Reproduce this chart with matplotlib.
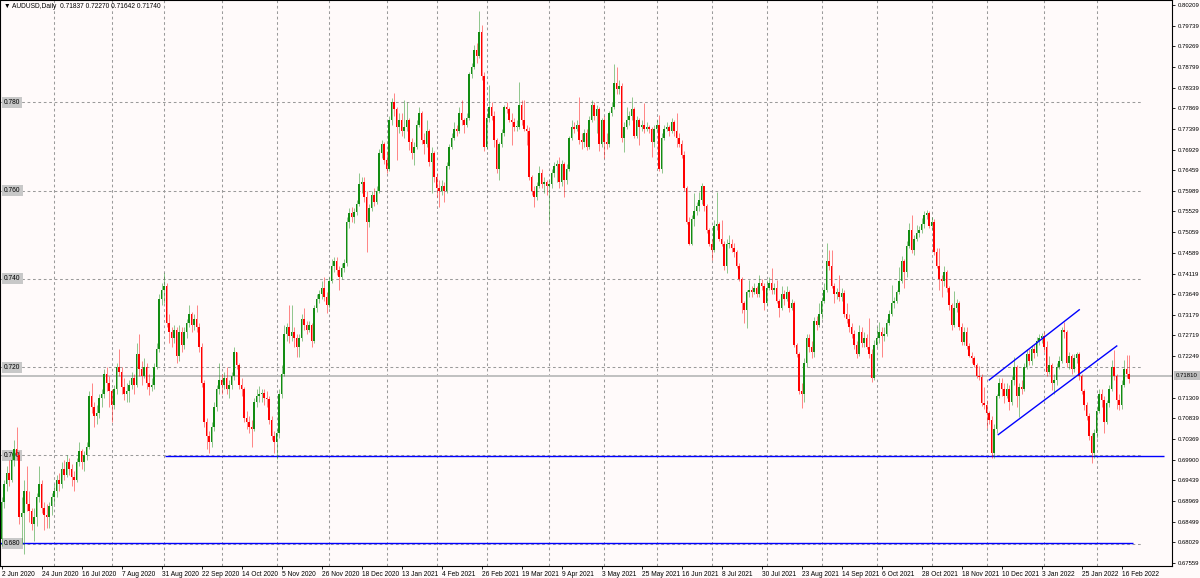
import numpy as np
import matplotlib
matplotlib.use("Agg")
import matplotlib.pyplot as plt

# AUDUSD daily bars, values in pips (price * 10000)
first_open = 6810
closes = [
    6895, 6935, 6960, 6945, 6990, 7015, 7000, 6860, 6870, 6920, 6890, 6875, 6845, 6860, 6905, 6935,
    6880, 6865, 6860, 6885, 6905, 6920, 6945, 6935, 6970, 6955, 6985, 6970, 6950, 6945, 6985, 7010,
    6985, 7000, 7020, 7135, 7110, 7090, 7095, 7130, 7140, 7185, 7165, 7145, 7115, 7150, 7200, 7190,
    7155, 7140, 7145, 7160, 7175, 7160, 7230, 7195, 7180, 7200, 7165, 7155, 7160, 7200, 7240, 7355,
    7375, 7385, 7300, 7280, 7265, 7285, 7225, 7280, 7250, 7280, 7300, 7320, 7295, 7310, 7290, 7245,
    7165, 7075, 7045, 7030, 7065, 7110, 7150, 7170, 7160, 7175, 7150, 7160, 7180, 7235, 7205, 7160,
    7150, 7085, 7075, 7065, 7060, 7120, 7135, 7138, 7142, 7130, 7128, 7080, 7045, 7030, 7050, 7140,
    7185, 7275, 7290, 7270, 7280, 7265, 7245, 7265, 7310, 7295, 7285, 7295, 7260, 7335, 7355, 7365,
    7380, 7360, 7340, 7395, 7430, 7440, 7420, 7405, 7425, 7435, 7530, 7550, 7540, 7552, 7570, 7615,
    7620, 7585, 7530, 7560, 7590, 7575, 7600, 7685, 7705, 7670, 7650, 7760, 7800, 7785, 7745, 7760,
    7735, 7745, 7760, 7710, 7685, 7700, 7750, 7775, 7715, 7705, 7735, 7665, 7685, 7630, 7605, 7600,
    7610, 7600, 7655, 7700, 7720, 7740, 7735, 7775, 7760, 7748, 7765, 7865, 7880, 7920, 7905, 7960,
    7860, 7700, 7765, 7790, 7770, 7715, 7650, 7705, 7730, 7790, 7785, 7760, 7755, 7745, 7745, 7795,
    7760, 7740, 7735, 7630, 7600, 7585, 7610, 7640, 7615, 7620, 7610, 7615, 7640, 7655, 7660, 7620,
    7660, 7625, 7650, 7720, 7745, 7740, 7750, 7715, 7710, 7730, 7700, 7760, 7795, 7770, 7785, 7705,
    7760, 7710, 7705, 7775, 7790, 7845, 7830, 7838, 7720, 7745, 7760, 7770, 7785, 7725, 7760, 7745,
    7750, 7740, 7745, 7740, 7710, 7740, 7748, 7650, 7720, 7740, 7745, 7735, 7755, 7735, 7720, 7705,
    7680, 7605, 7530, 7480, 7535, 7555, 7565, 7578, 7610, 7565, 7510, 7480, 7465, 7520, 7525, 7490,
    7480, 7430, 7480, 7480, 7470, 7460, 7430, 7400, 7345, 7330, 7370, 7375, 7370, 7380, 7365, 7390,
    7385, 7345, 7380, 7390, 7375, 7380, 7350, 7335, 7365, 7355, 7370, 7335, 7345, 7250, 7230, 7145,
    7140, 7210, 7265, 7245, 7235, 7305, 7295, 7320, 7350, 7375, 7440, 7430, 7385, 7365, 7370, 7360,
    7368, 7320, 7310, 7290, 7275, 7250, 7230, 7280, 7255, 7265, 7245, 7230, 7175, 7250, 7265, 7280,
    7270, 7275, 7300, 7320, 7345, 7350, 7370, 7395, 7440, 7415, 7475, 7510, 7465, 7490, 7505, 7512,
    7525, 7545, 7550, 7520, 7530, 7460, 7430, 7400, 7395, 7415, 7380, 7340, 7295, 7335, 7345, 7290,
    7258, 7280, 7248, 7225, 7220, 7205, 7180, 7178, 7118, 7115, 7095, 7080, 7005, 7060, 7135, 7165,
    7150, 7135, 7150, 7120, 7170, 7200, 7135, 7155, 7150, 7200, 7230, 7215, 7240, 7232, 7260, 7265,
    7270, 7245, 7190, 7205, 7165, 7170, 7200, 7215, 7285, 7280, 7210, 7225, 7195, 7220, 7230, 7180,
    7145, 7115, 7090, 7045, 7005, 7050, 7100, 7140, 7125, 7075, 7118, 7150, 7200, 7180, 7125, 7115,
    7160, 7195, 7184, 7174,
]
highs = [
    6905, 6945, 6975, 6990, 7005, 7035, 7065, 7010, 6905, 6945, 6975, 6920, 6880, 6880, 6915, 6975,
    6945, 6895, 6890, 6895, 6915, 6935, 6955, 6960, 6985, 6990, 7000, 6995, 6980, 6965, 6995, 7030,
    7015, 7010, 7030, 7145, 7165, 7120, 7115, 7140, 7150, 7195, 7200, 7180, 7150, 7160, 7210, 7242,
    7200, 7175, 7165, 7170, 7190, 7185, 7255, 7275, 7215, 7220, 7210, 7185, 7175, 7210, 7255, 7365,
    7390, 7414, 7390, 7320, 7290, 7295, 7290, 7295, 7290, 7290, 7310, 7341, 7325, 7320, 7340, 7300,
    7255, 7170, 7085, 7055, 7075, 7120, 7160, 7209, 7185, 7190, 7200, 7170, 7190, 7245, 7235, 7210,
    7175, 7155, 7100, 7090, 7080, 7130, 7150, 7158, 7150, 7150, 7145, 7135, 7090, 7055, 7060, 7150,
    7205, 7295, 7300, 7340, 7340, 7290, 7275, 7275, 7320, 7335, 7305, 7305, 7300, 7340, 7365, 7375,
    7395, 7405, 7370, 7405, 7445, 7450, 7450, 7430, 7435, 7445, 7540, 7560, 7564, 7560, 7580, 7639,
    7630, 7630, 7600, 7570, 7600, 7605, 7610, 7695, 7715, 7710, 7690, 7770, 7810, 7821, 7790, 7775,
    7775, 7805, 7800, 7765, 7720, 7710, 7760, 7790, 7780, 7730, 7760, 7740, 7700, 7690, 7640, 7625,
    7625, 7620, 7665, 7705, 7730, 7756, 7750, 7790, 7805, 7765, 7775, 7870, 7890, 7930, 7935, 8007,
    7975, 7870, 7775, 7840, 7800, 7780, 7720, 7710, 7740, 7795, 7800, 7790, 7775, 7765, 7760, 7847,
    7805, 7805, 7750, 7745, 7635, 7610, 7620, 7655, 7650, 7630, 7625, 7625, 7650, 7665, 7670, 7677,
    7670, 7665, 7660, 7725, 7760, 7755, 7760, 7813, 7730, 7740, 7740, 7770, 7806, 7800, 7795, 7790,
    7765, 7770, 7730, 7780, 7800, 7888, 7880, 7850, 7845, 7755, 7790, 7780, 7813, 7790, 7770, 7765,
    7760, 7798, 7755, 7750, 7745, 7750, 7760, 7771, 7730, 7750, 7755, 7750, 7764, 7760, 7775, 7730,
    7715, 7690, 7610, 7540, 7545, 7594, 7575, 7597, 7617, 7602, 7570, 7515, 7490, 7534, 7598, 7530,
    7534, 7485, 7490, 7500, 7490, 7481, 7465, 7435, 7405, 7350, 7375, 7398, 7385, 7390, 7385, 7409,
    7400, 7390, 7398, 7405, 7424, 7390, 7398, 7355, 7383, 7375, 7383, 7375, 7355, 7350, 7255, 7235,
    7165, 7220, 7275, 7275, 7260, 7314, 7315, 7345, 7360, 7390, 7481, 7465, 7466, 7390, 7380, 7409,
    7380, 7375, 7345, 7320, 7300, 7285, 7260, 7296, 7290, 7280, 7275, 7311, 7240, 7262, 7290, 7303,
    7290, 7290, 7310, 7330, 7386, 7360, 7375, 7428, 7451, 7445, 7485, 7526, 7545, 7500, 7523, 7520,
    7538, 7553, 7556, 7555, 7540, 7535, 7470, 7470, 7410, 7430, 7420, 7385, 7345, 7372, 7355, 7350,
    7300, 7290, 7292, 7255, 7235, 7225, 7210, 7202, 7185, 7156, 7125, 7100, 7090, 7070, 7140, 7175,
    7175, 7165, 7165, 7160, 7180, 7224, 7205, 7165, 7170, 7210, 7240, 7240, 7250, 7250, 7268, 7275,
    7277, 7280, 7260, 7225, 7210, 7185, 7210, 7225, 7290, 7303, 7285, 7235, 7230, 7230, 7235, 7235,
    7185, 7150, 7120, 7095, 7050, 7060, 7110, 7150, 7150, 7135, 7125, 7160, 7216, 7239, 7185, 7140,
    7170, 7216, 7227, 7227,
]
lows = [
    6795, 6880, 6920, 6930, 6940, 6975, 6990, 6845, 6800, 6776, 6875, 6850, 6830, 6805, 6840, 6895,
    6870, 6830, 6835, 6835, 6865, 6890, 6905, 6920, 6925, 6945, 6950, 6955, 6930, 6920, 6940, 6975,
    6970, 6965, 6990, 7015, 7095, 7065, 7070, 7085, 7110, 7130, 7145, 7110, 7075, 7105, 7140, 7180,
    7140, 7125, 7120, 7120, 7150, 7140, 7155, 7180, 7160, 7175, 7150, 7137, 7145, 7150, 7195, 7235,
    7340, 7345, 7290, 7255, 7245, 7255, 7210, 7215, 7235, 7240, 7265, 7290, 7280, 7285, 7280, 7235,
    7155, 7065, 7015, 7006, 7020, 7055, 7100, 7140, 7140, 7150, 7140, 7130, 7150, 7170, 7195, 7150,
    7135, 7075, 7060, 7050, 7020, 7055, 7110, 7120, 7120, 7115, 7110, 7070, 7035, 7005, 6991, 7040,
    7130, 7180, 7260, 7255, 7260, 7245, 7224, 7224, 7260, 7285, 7275, 7280, 7245, 7255, 7325, 7345,
    7355, 7350, 7322, 7335, 7390, 7415, 7410, 7375, 7400, 7415, 7430, 7515, 7530, 7526, 7545, 7565,
    7595, 7575, 7462, 7518, 7555, 7565, 7570, 7595, 7675, 7660, 7639, 7645, 7750, 7770, 7670, 7730,
    7725, 7720, 7735, 7692, 7672, 7658, 7695, 7745, 7705, 7684, 7700, 7655, 7594, 7620, 7586, 7563,
    7590, 7575, 7595, 7650, 7695, 7715, 7725, 7730, 7750, 7730, 7745, 7760, 7855, 7875, 7890, 7900,
    7850, 7690, 7695, 7755, 7760, 7700, 7639, 7625, 7700, 7725, 7775, 7755, 7704, 7735, 7735, 7740,
    7750, 7735, 7704, 7625, 7590, 7564, 7580, 7605, 7605, 7595, 7590, 7530, 7605, 7630, 7620, 7605,
    7610, 7586, 7615, 7645, 7715, 7730, 7735, 7705, 7695, 7700, 7692, 7695, 7755, 7760, 7730, 7690,
    7700, 7673, 7695, 7700, 7770, 7785, 7820, 7820, 7710, 7688, 7740, 7750, 7760, 7720, 7720, 7703,
    7735, 7730, 7735, 7730, 7677, 7700, 7735, 7645, 7640, 7715, 7735, 7725, 7730, 7725, 7700, 7700,
    7675, 7600, 7525, 7477, 7478, 7520, 7545, 7555, 7570, 7555, 7505, 7475, 7443, 7460, 7510, 7485,
    7475, 7420, 7413, 7470, 7460, 7450, 7425, 7395, 7322, 7299, 7288, 7360, 7360, 7365, 7360, 7360,
    7375, 7330, 7340, 7375, 7365, 7365, 7345, 7314, 7330, 7340, 7350, 7326, 7330, 7245, 7224, 7140,
    7107, 7120, 7200, 7235, 7220, 7224, 7284, 7290, 7310, 7345, 7370, 7420, 7380, 7345, 7355, 7350,
    7350, 7314, 7300, 7280, 7265, 7240, 7220, 7225, 7245, 7246, 7240, 7220, 7167, 7170, 7245, 7255,
    7224, 7260, 7270, 7295, 7315, 7335, 7345, 7365, 7390, 7380, 7405, 7470, 7458, 7455, 7485, 7495,
    7505, 7515, 7535, 7515, 7510, 7455, 7425, 7375, 7360, 7385, 7370, 7330, 7285, 7290, 7325, 7285,
    7251, 7250, 7240, 7224, 7210, 7201, 7175, 7170, 7111, 7105, 7062, 7070, 6994, 6995, 7050, 7130,
    7135, 7118, 7130, 7103, 7115, 7160, 7110, 7088, 7140, 7145, 7195, 7205, 7205, 7220, 7225, 7250,
    7255, 7235, 7180, 7185, 7148, 7140, 7160, 7195, 7210, 7265, 7200, 7195, 7185, 7190, 7210, 7170,
    7140, 7103, 7080, 7035, 6982, 6995, 7040, 7095, 7110, 7050, 7070, 7110, 7145, 7170, 7106, 7103,
    7105, 7155, 7175, 7164,
]

date_labels = ["2 Jun 2020", "24 Jun 2020", "16 Jul 2020", "7 Aug 2020", "31 Aug 2020",
               "22 Sep 2020", "14 Oct 2020", "5 Nov 2020", "26 Nov 2020", "18 Dec 2020",
               "13 Jan 2021", "4 Feb 2021", "26 Feb 2021", "19 Mar 2021", "9 Apr 2021",
               "3 May 2021", "25 May 2021", "16 Jun 2021", "8 Jul 2021", "30 Jul 2021",
               "23 Aug 2021", "14 Sep 2021", "6 Oct 2021", "28 Oct 2021", "18 Nov 2021",
               "10 Dec 2021", "3 Jan 2022", "25 Jan 2022", "16 Feb 2022"]
price_ticks = [0.80209, 0.79739, 0.79269, 0.78799, 0.78339, 0.77869, 0.77399, 0.76929,
               0.76459, 0.75989, 0.75529, 0.75059, 0.74589, 0.74119, 0.73649, 0.73179,
               0.72719, 0.72249, 0.71309, 0.70839, 0.70369, 0.69900, 0.69439, 0.68969,
               0.68499, 0.68029, 0.67559]
round_levels = [0.680, 0.700, 0.720, 0.740, 0.760, 0.780]
month_starts = [21, 44, 65, 88, 110, 131, 154, 174, 194, 219, 241, 262, 284, 306, 328,
                350, 372, 394, 417, 438]
support_high = 0.6999
support_low = 0.6801
channel_upper = [(395.1, 0.7171), (431.1, 0.7330)]
channel_lower = [(398.7, 0.7047), (446.1, 0.7248)]
current_price = 0.71810
header = "AUDUSD,Daily  0.71837 0.72270 0.71642 0.71740"

plt.rcParams["font.family"] = ["Liberation Sans", "DejaVu Sans"]
BG = "#fffafa"
GREEN = "#128c12"
RED = "#ff0000"
GRID = "#9a9a9a"
FS = 4.8
FS_PRICE = 4.3

c = np.array(closes) / 1e4
h = np.array(highs) / 1e4
l = np.array(lows) / 1e4
o = np.concatenate([[first_open / 1e4], c[:-1]])
x = np.arange(len(c))
up = c >= o
cols = np.where(up, GREEN, RED)

fig = plt.figure(figsize=(12, 5.78), dpi=100)
fig.patch.set_facecolor(BG)
ax = fig.add_axes([0, 1 - 566 / 578, 1172 / 1200, 566 / 578])
ax.set_facecolor(BG)
ax.set_xlim(-0.6, 468.2)
ax.set_ylim(0.67492, 0.80323)

# round-number levels and month separators
ax.hlines(round_levels, -0.6, 456, colors=GRID, linestyles=(0, (2.6, 2.6)),
          linewidth=0.75, zorder=1)
ax.vlines(month_starts, 0.67492, 0.80323, colors=GRID, linestyles=(0, (2.6, 2.6)),
          linewidth=0.75, zorder=1)

# current price line
ax.axhline(current_price, color="#c0c0c0", linewidth=1.4, zorder=1.2)

# blue drawn lines
ax.hlines(support_high, 65.4, 465, colors="#0000ff", linewidth=1.0, zorder=2)
ax.hlines(support_low, -0.6, 452.6, colors="#0000ff", linewidth=1.0, zorder=2)
for seg in (channel_upper, channel_lower):
    ax.plot([seg[0][0], seg[1][0]], [seg[0][1], seg[1][1]], color="#0000ff",
            linewidth=1.0, zorder=5)

# left level labels
for lev in round_levels:
    ax.text(0.0035, lev, f"{lev:.3f}", transform=ax.get_yaxis_transform(),
            fontsize=FS, ha="left", va="center", zorder=2.5,
            bbox=dict(boxstyle="square,pad=0.3", fc="#c8c8c8", ec="none"))

# candles
ax.vlines(x, l, h, colors=cols, linewidth=0.6, alpha=0.55, zorder=3)
body_bottom = np.minimum(o, c)
body_h = np.maximum(np.abs(c - o), 0.00006)
ax.bar(x, body_h, bottom=body_bottom, width=0.7, color=cols, linewidth=0, zorder=4)

# axes
for side in ("left", "top", "right", "bottom"):
    ax.spines[side].set_color("black")
    ax.spines[side].set_linewidth(0.8)

ax.yaxis.tick_right()
ax.set_yticks(price_ticks)
ax.set_yticklabels([f"{v:.5f}" for v in price_ticks])
ax.tick_params(axis="y", direction="out", length=2.5, width=0.6, pad=2.0,
               labelsize=FS_PRICE, colors="black")

ax.set_xticks(np.arange(0, 16 * len(date_labels), 16))
ax.set_xticklabels(date_labels)
for lab in ax.get_xticklabels():
    lab.set_horizontalalignment("left")
ax.tick_params(axis="x", direction="out", length=2.5, width=0.6, pad=1.2,
               labelsize=FS, colors="black")

ax.text(1.0036, current_price, f"{current_price:.5f}", transform=ax.get_yaxis_transform(),
        fontsize=FS_PRICE, ha="left", va="center", clip_on=False, zorder=6,
        bbox=dict(boxstyle="square,pad=0.3", fc="#c0c0c0", ec="none"))

fig.text(4 / 1200, 1 - 6 / 578, "\u25bc " + header, fontsize=FS, ha="left", va="center")

fig.savefig("out.png", dpi=100, facecolor=BG)
